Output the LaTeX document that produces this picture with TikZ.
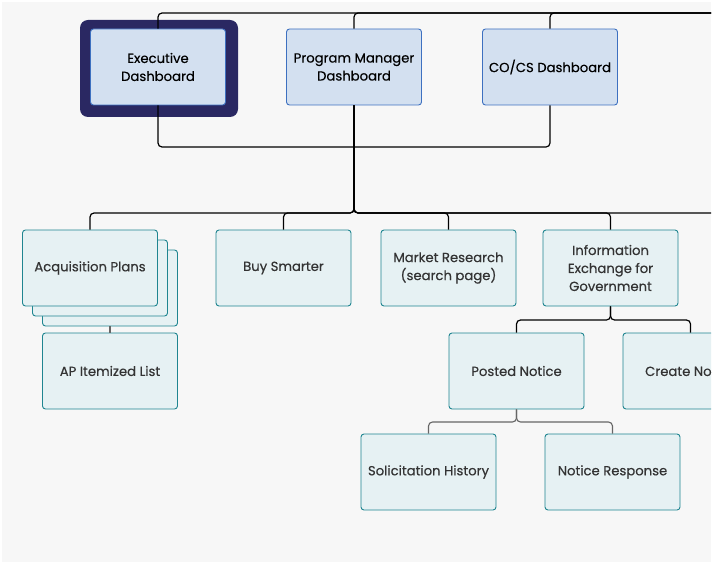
\documentclass[tikz,border=0pt]{standalone}
\usepackage{fontspec}
\setmainfont{Poppins}[FakeBold=0.35]
\definecolor{bgc}{HTML}{F7F7F7}
\definecolor{frame}{HTML}{2A2862}
\definecolor{dfill}{HTML}{D3E0F0}
\definecolor{dline}{HTML}{3D70C0}
\definecolor{tfill}{HTML}{E6F1F3}
\definecolor{tline}{HTML}{1F8590}
\definecolor{txt}{HTML}{333333}
\definecolor{gline}{HTML}{666666}
\tikzset{
  dashbox/.style={draw=dline, fill=dfill, line width=0.9pt, rounded corners=3pt,
    minimum width=135pt, minimum height=76pt, align=center, text=black,
    font=\fontsize{13.2}{18}\selectfont, inner sep=0pt},
  pbox/.style={draw=tline, fill=tfill, line width=0.9pt, rounded corners=3pt,
    minimum width=135pt, minimum height=76pt, align=center, text=txt,
    font=\fontsize{13.2}{18}\selectfont, inner sep=0pt},
  conn/.style={draw=black, line width=1.2pt, rounded corners=4pt},
  gconn/.style={draw=gline, line width=1.1pt, rounded corners=4pt},
}
\begin{document}
\begin{tikzpicture}[x=1pt,y=-1pt]
\useasboundingbox (0,0) rectangle (714,564);
\fill[white] (0,0) rectangle (714,564);
\fill[bgc] (2,2) rectangle (711,562);
\begin{scope}
\clip (2,2) rectangle (711,562);
% executive frame
\fill[frame, rounded corners=8pt] (80,20) rectangle (238,117);
% nodes
\node[dashbox] (exec) at (158,67) {Executive\\Dashboard};
\node[dashbox] (pm) at (354,67) {Program Manager\\Dashboard};
\node[dashbox] (co) at (550,67) {CO/CS Dashboard};
\node[pbox] (acq3) at (110,288) {};
\node[pbox] (acq2) at (100,278) {};
\node[pbox] (acq) at (90,268) {Acquisition Plans};
\node[pbox] (buy) at (283.5,268) {Buy Smarter};
\node[pbox] (mr) at (448.5,268) {Market Research\\(search page)};
\node[pbox] (ie) at (610.5,268) {Information\\Exchange for\\Government};
\node[pbox] (ap) at (110,371) {AP Itemized List};
\node[pbox] (pn) at (516.5,371) {Posted Notice};
\node[pbox] (cn) at (690.5,371) {Create Notice};
\node[pbox] (sh) at (428.5,472) {Solicitation History};
\node[pbox] (nr) at (612.5,472) {Notice Response};
% coordinates
\coordinate (topR) at (730,13);
\coordinate (botM) at (354,147);
\coordinate (jn) at (354,213);
\coordinate (busR) at (730,213);
\coordinate (ieJ) at (610.5,320);
\coordinate (pnJ) at (516.5,422);
% top bus
\draw[conn] (exec.north) |- (topR);
\draw[conn] (pm.north) |- (topR);
\draw[conn] (co.north) |- (topR);
% bottom bus
\draw[conn] (exec.south) |- (botM) -| (co.south);
% lower bus
\draw[conn] (pm.south) -- (jn) -| (acq.north);
\draw[conn] (pm.south) -- (jn) -| (buy.north);
\draw[conn] (pm.south) -- (jn) -| (mr.north);
\draw[conn] (pm.south) -- (jn) -| (ie.north);
\draw[conn] (pm.south) -- (jn) -- (busR);
% info exchange children
\draw[conn] (ie.south) -- (ieJ) -| (pn.north);
\draw[conn] (ie.south) -- (ieJ) -| (cn.north);
% posted notice children
\draw[gconn] (pn.south) -- (pnJ) -| (sh.north);
\draw[gconn] (pn.south) -- (pnJ) -| (nr.north);
% acquisition plans to list
\draw[gconn] (acq3.south) -- (ap.north);
\end{scope}
\end{tikzpicture}
\end{document}
